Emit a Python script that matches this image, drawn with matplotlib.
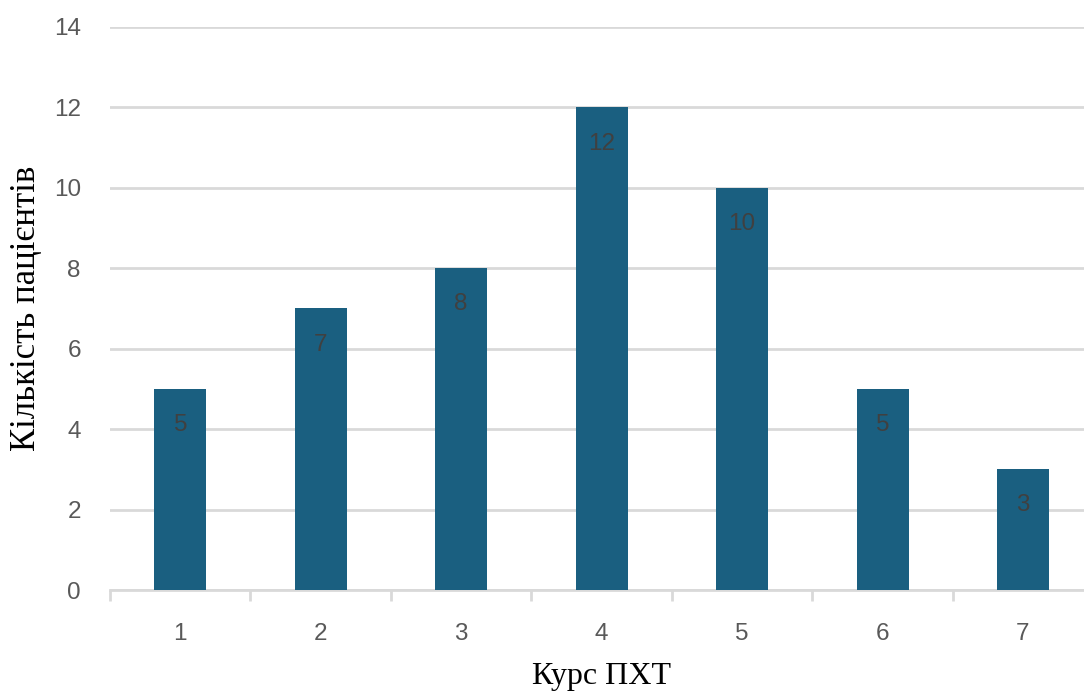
import matplotlib.pyplot as plt
import numpy as np

# Data
courses = ['1', '2', '3', '4', '5', '6', '7']
patients = [5, 7, 8, 12, 10, 5, 3]
yticks = [0, 2, 4, 6, 8, 10, 12, 14]

bar_color = '#1a5f80'
grid_color = '#d9d9d9'
text_color = '#595959'

fig = plt.figure(figsize=(10.84, 6.97), dpi=100)
ax = fig.add_axes([0.1015, 0.1535, 0.907, 0.8078])

x = np.arange(len(courses))
bars = ax.bar(x, patients, width=0.37, color=bar_color, zorder=3)

for xi, v in zip(x, patients):
    ax.annotate(str(v), (xi, v), xytext=(0, -26), textcoords='offset points',
                ha='center', va='center', fontsize=17.5, color='#404040',
                family='Liberation Sans', zorder=4)

ax.set_xlim(-0.5, len(courses) - 0.5)
ax.set_ylim(0, 14)
ax.set_yticks(yticks)
ax.yaxis.grid(True, color=grid_color, linewidth=2, zorder=0)
ax.tick_params(axis='y', length=0, pad=21, labelsize=17.5, labelcolor=text_color)

# category labels centered, tick marks at boundaries
ax.set_xticks(x)
ax.set_xticklabels(courses)
ax.set_xticks(np.arange(len(courses) + 1) - 0.5, minor=True)
ax.tick_params(axis='x', which='major', length=0, pad=24, labelsize=17.5, labelcolor=text_color)
ax.tick_params(axis='x', which='minor', length=8, width=2, color=grid_color)
for lbl in ax.get_xticklabels() + ax.get_yticklabels():
    lbl.set_family('Liberation Sans')

for side in ['top', 'right', 'left']:
    ax.spines[side].set_visible(False)
ax.spines['bottom'].set_color(grid_color)
ax.spines['bottom'].set_linewidth(2)

ax.set_xlabel('Курс ПХТ', family='Liberation Serif', fontsize=23)
ax.set_ylabel('Кількість пацієнтів', family='Liberation Serif', fontsize=25)
ax.xaxis.set_label_coords(0.5, -0.128)
ax.yaxis.set_label_coords(-0.068, 0.5)

fig.savefig('out.png', dpi=100)
